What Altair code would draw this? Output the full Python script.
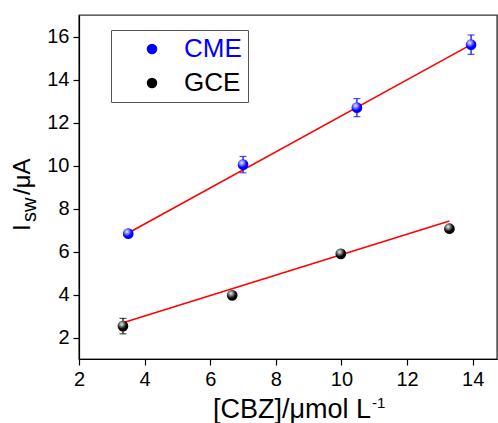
import altair as alt
import pandas as pd

# ---- data ----
series = ["CME", "CME", "CME", "CME", "GCE", "GCE", "GCE", "GCE"]
conc = [3.5, 7.0, 10.47, 13.95, 3.34, 6.67, 9.98, 13.29]
current = [6.83, 10.04, 12.69, 15.62, 2.53, 3.96, 5.89, 7.06]
error = [0.12, 0.38, 0.42, 0.45, 0.36, 0.12, 0.10, 0.10]

fit_series = ["CME", "CME", "GCE", "GCE"]
fit_x = [3.5, 13.95, 3.34, 13.29]
fit_y = [6.86, 15.62, 2.69, 7.42]

x_ticks = [2, 3, 4, 5, 6, 7, 8, 9, 10, 11, 12, 13, 14]
y_ticks = [2, 3, 4, 5, 6, 7, 8, 9, 10, 11, 12, 13, 14, 15, 16]

FONT = "Liberation Sans"
COLORS = {"CME": "#0000ff", "GCE": "#000000"}

df = pd.DataFrame({"series": series, "x": conc, "y": current, "err": error})
df["lo"] = df["y"] - df["err"]
df["hi"] = df["y"] + df["err"]
fit = pd.DataFrame({"series": fit_series, "x": fit_x, "y": fit_y})

xs = alt.Scale(domain=[2, 14.74], nice=False, zero=False)
ys = alt.Scale(domain=[1, 17], nice=False, zero=False)
cs = alt.Scale(domain=list(COLORS.keys()), range=list(COLORS.values()))

tick_cond = {"condition": {"test": "datum.value % 2 == 0", "value": 6}, "value": 3}
x_axis = alt.Axis(values=x_ticks, title=None, grid=False, tickSize=tick_cond,
                  labelExpr="datum.value % 2 == 0 ? datum.label : ''",
                  tickColor="black", tickWidth=1.2, domainColor="black", domainWidth=1.2,
                  labelFont=FONT, labelFontSize=20, labelColor="black", labelPadding=4,
                  labelFlush=False, orient="bottom")
y_axis = alt.Axis(values=y_ticks, title=None, grid=False, tickSize=tick_cond,
                  labelExpr="datum.value % 2 == 0 ? datum.label : ''",
                  tickColor="black", tickWidth=1.2, domainColor="black", domainWidth=1.2,
                  labelFont=FONT, labelFontSize=20, labelColor="black", labelPadding=4,
                  labelFlush=False, orient="left")

base = alt.Chart(df)

lines = alt.Chart(fit).mark_line(color="red", strokeWidth=1.6).encode(
    x=alt.X("x:Q", scale=xs, axis=x_axis),
    y=alt.Y("y:Q", scale=ys, axis=y_axis),
    detail="series:N",
)

errbars = [
    base.transform_filter(alt.datum.series == s).mark_errorbar(
        ticks={"size": 7}, thickness=1.2, color=c
    ).encode(
        x=alt.X("x:Q", scale=xs),
        y=alt.Y("lo:Q", scale=ys),
        y2="hi:Q",
    )
    for s, c in COLORS.items()
]

points = base.mark_point(filled=True, size=115, opacity=1).encode(
    x=alt.X("x:Q", scale=xs),
    y=alt.Y("y:Q", scale=ys),
    color=alt.Color("series:N", scale=cs, legend=alt.Legend(
        title=None, orient="none", legendX=32, legendY=15,
        strokeColor="#555", fillColor="white", padding=6,
        symbolOffset=22, labelOffset=19, rowPadding=8,
        symbolType="circle", symbolSize=110, symbolStrokeWidth=0,
        labelFont=FONT, labelFontSize=26,
        labelColor={"expr": "datum.label == 'CME' ? '#0000ff' : '#000000'"},
    )),
)

shine = base.mark_point(
    filled=True, size=115, opacity=1, strokeWidth=0,
    fill=alt.RadialGradient(
        gradient="radial",
        stops=[alt.GradientStop(offset=0, color="rgba(255,255,255,0.95)"),
               alt.GradientStop(offset=1, color="rgba(255,255,255,0)")],
        x1=0.38, y1=0.32, r1=0, x2=0.38, y2=0.32, r2=0.45),
).encode(x=alt.X("x:Q", scale=xs), y=alt.Y("y:Q", scale=ys))

# ---- axis titles (with sub/superscripts) ----
def txt(s, x, y, size, angle=0, align="left"):
    return alt.Chart(pd.DataFrame({"t": [s]})).mark_text(
        font=FONT, fontSize=size, color="black", align=align,
        baseline="alphabetic", angle=angle,
    ).encode(text="t:N", x=alt.value(x), y=alt.value(y))

titles = [
    txt("[CBZ]/\u03bcmol L", 134, 403, 27),
    txt("-1", 293, 393, 15),
    txt("I", -49, 216, 24, angle=270),
    txt("sw", -43, 207, 20, angle=270),
    txt("/\u03bcA", -49, 180, 24, angle=270),
]

chart = alt.layer(lines, *errbars, points, shine, *titles).properties(
    width=418, height=344,
    autosize=alt.AutoSizeParams(type="none"),
    padding={"left": 79, "top": 15, "right": 1, "bottom": 64},
).configure_view(stroke="#333", strokeWidth=1.4)

chart.save("out.html", embed_options={"renderer": "svg", "actions": False})
